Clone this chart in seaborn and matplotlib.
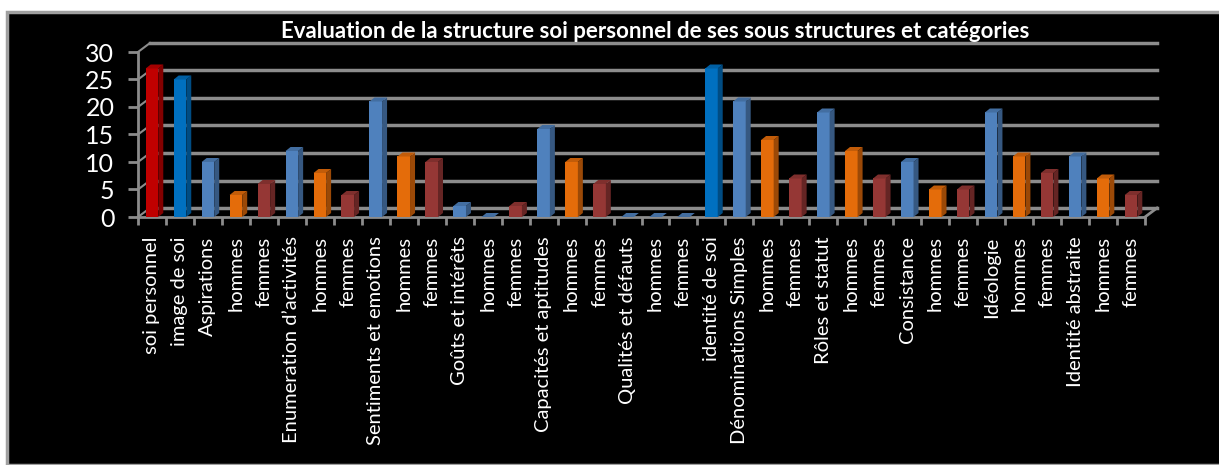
import numpy as np
import pandas as pd
import matplotlib
matplotlib.use("Agg")
import matplotlib.pyplot as plt
import matplotlib.colors as mcolors
from matplotlib.patches import Rectangle, Polygon
from matplotlib.transforms import ScaledTranslation
import seaborn as sns

# donnees
categories = ["soi personnel", "image de soi", "Aspirations", "hommes", "femmes",
              "Enumeration d\u2019activités", "hommes", "femmes",
              "Sentiments et emotions", "hommes", "femmes",
              "Goûts et intérêts", "hommes", "femmes",
              "Capacités et aptitudes", "hommes", "femmes",
              "Qualités et défauts", "hommes", "femmes",
              "identité de soi", "Dénominations Simples", "hommes", "femmes",
              "Rôles et statut", "hommes", "femmes",
              "Consistance", "hommes", "femmes",
              "Idéologie", "hommes", "femmes",
              "Identité abstraite", "hommes", "femmes"]
valeurs = [27, 25, 10, 4, 6, 12, 8, 4, 21, 11, 10, 2, 0, 2, 16, 10, 6, 0, 0, 0,
           27, 21, 14, 7, 19, 12, 7, 10, 5, 5, 19, 11, 8, 11, 7, 4]
groupes = ["soi", "structure", "sous", "hommes", "femmes",
           "sous", "hommes", "femmes", "sous", "hommes", "femmes",
           "sous", "hommes", "femmes", "sous", "hommes", "femmes",
           "sous", "hommes", "femmes",
           "structure", "sous", "hommes", "femmes",
           "sous", "hommes", "femmes", "sous", "hommes", "femmes",
           "sous", "hommes", "femmes", "sous", "hommes", "femmes"]
couleurs = {"soi": "#C00000", "structure": "#0070C0", "sous": "#4F81BD",
            "hommes": "#E46C0A", "femmes": "#953735"}
titre = "Evaluation de la structure soi personnel de ses sous structures et catégories"

df = pd.DataFrame({"pos": [str(i) for i in range(len(valeurs))],
                   "valeur": valeurs, "groupe": groupes})

W, H, DPI = 1219, 465, 100
police = ["Lato", "DejaVu Sans"]
fig = plt.figure(figsize=(W / DPI, H / DPI), dpi=DPI, facecolor="white")
fig.patches.append(Rectangle((7 / W, 0), 1, 1 - 12 / H, transform=fig.transFigure,
                             facecolor="black", edgecolor="#a0a0a0", linewidth=2.5,
                             zorder=-10))

ax_l, ax_b, ax_w, ax_h = 138 / W, 1 - 217 / H, 1007 / W, 165 / H
ax = fig.add_axes([ax_l, ax_b, ax_w, ax_h])
ax.set_facecolor("none")

sns.barplot(data=df, x="pos", y="valeur", hue="groupe", palette=couleurs,
            dodge=False, width=0.45, saturation=1, legend=False, ax=ax, zorder=3,
            edgecolor="none")

ax.set_xlim(-0.5, len(valeurs) - 0.5)
ax.set_ylim(0, 30)
ax.set_yticks(range(0, 31, 5))
ax.set_xticks(range(len(valeurs)))
ax.set_xticklabels(categories, rotation=90, color="white", fontsize=14.5, family=police)
ax.set_xticks(np.arange(-0.5, len(valeurs), 1), minor=True)
ax.tick_params(axis="x", which="major", length=0, pad=14)
ax.tick_params(axis="x", which="minor", length=6, width=2, color="#8c8c8c")
ax.tick_params(axis="y", length=7, width=2, color="#8c8c8c", labelcolor="white",
               labelsize=18, pad=10)
for t in ax.get_yticklabels():
    t.set_family(police)
ax.set_xlabel("")
ax.set_ylabel("")
for s in ["top", "right"]:
    ax.spines[s].set_visible(False)
for s in ["left", "bottom"]:
    ax.spines[s].set_color("#8c8c8c")
    ax.spines[s].set_linewidth(2)

# mur du fond en perspective
px = len(valeurs) / (ax_w * W)
py = 30 / (ax_h * H)
off = ScaledTranslation(12 / DPI, 9 / DPI, fig.dpi_scale_trans)
for y in range(0, 31, 5):
    ln, = ax.plot([-0.5, len(valeurs) - 0.5], [y, y], color="#8c8c8c",
                  linewidth=2.5, zorder=1, clip_on=False)
    ln.set_transform(ax.transData + off)
    ax.plot([-0.5, -0.5 + 12 * px], [y, y + 9 * py],
            color="#8c8c8c", linewidth=1.5, zorder=1, clip_on=False)
ax.plot([len(valeurs) - 0.5, len(valeurs) - 0.5 + 12 * px], [0, 9 * py],
        color="#8c8c8c", linewidth=2, zorder=1, clip_on=False)

# faces laterales et dessus des barres
dx, dy = 5 * px, 4 * py
for p in ax.patches:
    x0, y0 = p.get_x(), p.get_y()
    w, h = p.get_width(), p.get_height()
    c = np.array(mcolors.to_rgb(p.get_facecolor()))
    if h == 0:
        c = np.array(mcolors.to_rgb(couleurs["sous"]))
    side = Polygon([(x0 + w, y0), (x0 + w, y0 + h), (x0 + w + dx, y0 + h + dy),
                    (x0 + w + dx, y0 + dy)], closed=True, facecolor=c * 0.68,
                   edgecolor="none", zorder=3, clip_on=False)
    top = Polygon([(x0, y0 + h), (x0 + w, y0 + h), (x0 + w + dx, y0 + h + dy),
                   (x0 + dx, y0 + h + dy)], closed=True, facecolor=c * 0.85,
                  edgecolor="none", zorder=3, clip_on=False)
    ax.add_patch(side)
    ax.add_patch(top)

fig.text(655 / W, 1 - 31 / H, titre, color="white", fontsize=16, fontweight="bold",
         ha="center", va="center", family=police)

fig.savefig("out.png", dpi=DPI, facecolor=fig.get_facecolor())
